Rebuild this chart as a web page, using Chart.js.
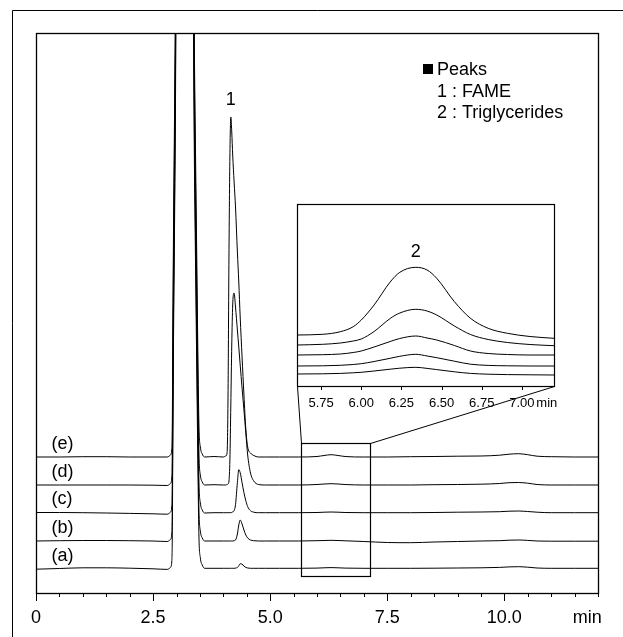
<!DOCTYPE html>
<html>
<head>
<meta charset="utf-8">
<title>Chromatograms</title>
<script src="https://cdn.jsdelivr.net/npm/chart.js@4.4.1/dist/chart.umd.min.js"></script>
<style>
  html, body { margin: 0; padding: 0; background: #fff; }
  #wrap { position: relative; width: 623px; height: 637px; overflow: hidden; }
  #main { position: absolute; left: 0; top: 0; }
  #inset { position: absolute; left: 290px; top: 195px; }
</style>
</head>
<body>
<div id="wrap">
  <canvas id="main" width="623" height="637"></canvas>
  <canvas id="inset" width="280" height="230"></canvas>
</div>
<script>
// ---- data (retention time in min, detector signal in arbitrary units) ----
const traceNames = ['(a)', '(b)', '(c)', '(d)', '(e)'];

const times = [
  0, 0.5, 1.0, 1.5, 2.0, 2.5, 2.8,
  2.87, 2.9, 2.91, 2.92, 2.935, 2.95, 2.965, 2.98, 3.0, 3.05,
  3.3, 3.35, 3.365, 3.38, 3.4, 3.42, 3.44, 3.46, 3.48, 3.51, 3.55, 3.6,
  3.8, 4.0,
  4.05, 4.08, 4.1, 4.12, 4.14, 4.16, 4.18, 4.2, 4.23, 4.26, 4.3, 4.33, 4.36, 4.4, 4.44, 4.48, 4.52, 4.58, 4.65, 4.75,
  4.9, 5.2, 5.6, 6.0, 6.15, 6.3, 6.45, 6.6, 7.0, 7.5, 8.0, 8.5, 9.0, 9.5, 9.9, 10.1, 10.3, 10.5, 10.7, 11.0, 11.5, 12.0
];

const traceA = [
  23.8, 24.5, 25.2, 25.2, 24.8, 24.2, 23.6,
  25.5, 32, 55, 135, 245, 325, 405, 505, 725, 1025,
  1025, 725, 565, 445, 355, 275, 195, 115, 55, 35, 28, 24.7,
  24.7, 24.7,
  24.7, 24.7, 24.7, 24.7, 24.7, 24.7, 24.7, 24.7, 24.7, 24.9, 25.5, 27.2, 29.2, 28.9, 26.9, 25.6, 25, 24.7, 24.7, 24.7,
  24.7, 24.7, 24.7, 24.9, 25.2, 25.4, 25.2, 24.9, 24.7, 24.7, 24.7, 24.8, 25, 25.2, 25.6, 26.1, 26.3, 25.8, 25, 24.7, 24.7, 24.7
];

const traceB = [
  52, 52.3, 52.5, 52.5, 52.3, 52, 51.5,
  53.5, 60, 82, 162, 272, 352, 432, 532, 752, 1052,
  1052, 752, 592, 472, 382, 302, 222, 142, 82, 62, 55, 52,
  52, 52,
  52, 52, 52, 52, 52, 52, 52, 52, 52.3, 53, 59, 68, 73, 69, 63, 58, 55, 53, 52.3, 52,
  52, 52, 52, 52.3, 52.5, 52.7, 52.5, 52.2, 51.5, 50.5, 50.3, 51, 51.5, 52, 52.3, 52.8, 53, 52.6, 52, 51.8, 51.8, 51.8
];

const traceC = [
  80.5, 80.5, 80.3, 80, 79.6, 79.2, 78.8,
  80.8, 87, 109, 189, 299, 379, 459, 559, 779, 1079,
  1080, 780, 620, 500, 410, 330, 250, 170, 110, 90, 83, 80,
  80.3, 80.3,
  80.3, 80.3, 80.3, 80.3, 80.3, 80.3, 80.6, 81.1, 82.3, 88.3, 110.3, 123.3, 120.3, 110.3, 100.3, 92.3, 86.3, 82.3, 80.8, 80.3,
  80.3, 80.3, 80.3, 80.5, 80.8, 81, 80.8, 80.5, 80.3, 80.3, 80.3, 80.5, 80.8, 81, 81.3, 81.8, 82, 81.5, 80.8, 80.3, 80.3, 80.3
];

const traceD = [
  108, 108, 108, 108, 108, 107.8, 107.5,
  109.5, 116, 138, 218, 328, 408, 488, 588, 808, 1108,
  1108, 808, 648, 528, 438, 358, 278, 198, 138, 118, 111, 108,
  108.3, 108,
  108, 108.5, 109, 112, 133, 188, 248, 288, 300, 286, 263, 246, 228, 205, 183, 160, 138, 120, 112, 108.5,
  108, 108, 108, 108.5, 109, 109.3, 109, 108.5, 108, 108, 108, 108.3, 108.5, 108.8, 109.5, 110.3, 110.5, 109.8, 108.5, 108, 108, 108
];

const traceE = [
  136, 136, 136.3, 136.3, 136, 136, 136,
  138, 144, 166, 246, 356, 436, 516, 616, 836, 1136,
  1136, 836, 676, 556, 466, 386, 306, 226, 166, 146, 139, 136,
  136.5, 136,
  137, 140, 196, 336, 436, 476, 461, 438, 411, 386, 341, 311, 276, 236, 198, 164, 146, 140, 137.5, 136,
  136, 136, 136, 136.5, 137.5, 138.3, 137.5, 136.5, 136, 136, 136.3, 136.5, 136.8, 137, 137.8, 138.8, 139.3, 138.3, 136.8, 136.3, 136, 136
];

// inset: enlarged view of peak 2 (triglycerides)
const insetTimes = [5.6, 5.76, 5.87, 5.95, 6.0, 6.08, 6.18, 6.24, 6.34, 6.41, 6.47, 6.58, 6.68, 6.79, 6.91, 7.05, 7.2];
const insetA = [12, 12.2, 12.6, 13.2, 13.7, 15, 16.8, 17.8, 18.7, 17.6, 16.4, 14.2, 12.6, 11.8, 11.4, 11.2, 11];
const insetB = [20, 20.2, 20.7, 21.5, 22.3, 24.5, 27.7, 29.7, 31.7, 30, 28.3, 24.8, 21.8, 20.6, 20.2, 20, 20];
const insetC = [31, 31.3, 32, 33.5, 35, 39, 44.5, 47.5, 50, 48, 46, 40.5, 35, 32.5, 31.5, 31, 31];
const insetD = [41, 41.7, 43, 45, 47, 54.5, 67.5, 73, 76.7, 75, 71, 60, 51.5, 46.5, 43.5, 41.5, 40.3];
const insetE = [51, 51.7, 54.3, 59.3, 66, 81, 104, 113.7, 118.7, 116, 107.7, 84.3, 67.7, 57.7, 52.7, 49.5, 47.7];

const xTickValues = [0, 2.5, 5.0, 7.5, 10.0];
const xTickLabels = ['0', '2.5', '5.0', '7.5', '10.0'];
const insetTickValues = [5.75, 6.0, 6.25, 6.5, 6.75, 7.0];
const insetTickLabels = ['5.75', '6.00', '6.25', '6.50', '6.75', '7.00'];
const legendLines = ['1 : FAME', '2 : Triglycerides'];

// ---- layout ----
const FONT = '"Liberation Sans", Arial, sans-serif';
const INSET_LEFT = 290, INSET_TOP = 195;
const zoomBox = { from: 5.65, to: 7.14, low: 17, high: 150 };

const mainSeries = [traceA, traceB, traceC, traceD, traceE];
const insetSeries = [insetA, insetB, insetC, insetD, insetE];

function toPoints(xs, ys) {
  return xs.map((t, i) => ({ x: t, y: ys[i] }));
}

function lineDataset(xs, ys, label) {
  return {
    label: label,
    data: toPoints(xs, ys),
    borderColor: '#000',
    borderWidth: 1,
    pointRadius: 0,
    fill: false,
    cubicInterpolationMode: 'monotone'
  };
}

const insetDecor = {
  id: 'insetDecor',
  afterDraw(chart) {
    const { ctx, chartArea: a, scales: { x, y } } = chart;
    ctx.save();
    ctx.strokeStyle = '#000';
    ctx.lineWidth = 1.2;
    ctx.strokeRect(a.left + 0.5, a.top + 0.5, a.right - a.left, a.bottom - a.top);

    ctx.lineWidth = 1;
    insetTickValues.forEach(v => {
      const px = Math.round(x.getPixelForValue(v)) + 0.5;
      ctx.beginPath();
      ctx.moveTo(px, a.bottom);
      ctx.lineTo(px, a.bottom + 4);
      ctx.stroke();
    });

    ctx.fillStyle = '#000';
    ctx.font = '13px ' + FONT;
    ctx.textAlign = 'center';
    insetTickValues.forEach((v, i) => {
      ctx.fillText(insetTickLabels[i], x.getPixelForValue(v), a.bottom + 21);
    });
    ctx.fillText('min', x.getPixelForValue(7.155), a.bottom + 21);

    ctx.font = '18px ' + FONT;
    ctx.fillText('2', x.getPixelForValue(6.34), y.getPixelForValue(129.3));
    ctx.restore();
  }
};

const insetChart = new Chart(document.getElementById('inset'), {
  type: 'line',
  data: {
    datasets: insetSeries.map((s, i) => lineDataset(insetTimes, s, traceNames[i]))
  },
  options: {
    responsive: false,
    animation: false,
    layout: { padding: { left: 7, top: 9, right: 16, bottom: 39 } },
    plugins: { legend: { display: false }, tooltip: { enabled: false } },
    scales: {
      x: { type: 'linear', min: 5.6, max: 7.2, display: false },
      y: { min: 0, max: 182, display: false }
    }
  },
  plugins: [insetDecor]
});

const mainDecor = {
  id: 'mainDecor',
  afterDraw(chart) {
    const { ctx, chartArea: a, scales: { x, y } } = chart;
    ctx.save();
    ctx.strokeStyle = '#000';
    ctx.fillStyle = '#000';

    // figure frame, only its left and top edges are inside the picture
    ctx.lineWidth = 1;
    ctx.beginPath();
    ctx.moveTo(12.5, 637);
    ctx.lineTo(12.5, 10.5);
    ctx.lineTo(623, 10.5);
    ctx.stroke();

    // plot frame
    ctx.lineWidth = 1.3;
    ctx.strokeRect(a.left + 0.5, a.top + 0.5, a.right - a.left, a.bottom - a.top);

    // x ticks, major every 2.5 min
    ctx.lineWidth = 1;
    for (let v = 0; v <= 12; v += 0.5) {
      const px = Math.round(x.getPixelForValue(v)) + 0.5;
      const len = v % 2.5 === 0 ? 8 : 4;
      ctx.beginPath();
      ctx.moveTo(px, a.bottom);
      ctx.lineTo(px, a.bottom + len);
      ctx.stroke();
    }

    ctx.font = '18px ' + FONT;
    ctx.textAlign = 'center';
    ctx.textBaseline = 'alphabetic';
    xTickValues.forEach((v, i) => {
      ctx.fillText(xTickLabels[i], x.getPixelForValue(v), a.bottom + 30);
    });
    ctx.fillText('min', x.getPixelForValue(11.77), a.bottom + 30);

    // peak 1 label
    ctx.fillText('1', x.getPixelForValue(4.16), y.getPixelForValue(488));

    // trace labels
    ctx.textAlign = 'left';
    mainSeries.forEach((s, i) => {
      ctx.fillText(traceNames[i], x.getPixelForValue(0.33), y.getPixelForValue(s[0] + 8.5));
    });

    // zoom box and the lines leading to the inset
    const bx0 = Math.round(x.getPixelForValue(zoomBox.from)) + 0.5;
    const bx1 = Math.round(x.getPixelForValue(zoomBox.to)) + 0.5;
    const by0 = Math.round(y.getPixelForValue(zoomBox.high)) + 0.5;
    const by1 = Math.round(y.getPixelForValue(zoomBox.low)) + 0.5;
    ctx.lineWidth = 1.2;
    ctx.strokeRect(bx0, by0, bx1 - bx0, by1 - by0);

    const ia = insetChart.chartArea;
    ctx.lineWidth = 1;
    ctx.beginPath();
    ctx.moveTo(bx0, by0);
    ctx.lineTo(INSET_LEFT + ia.left + 0.5, INSET_TOP + ia.bottom + 0.5);
    ctx.moveTo(bx1, by0);
    ctx.lineTo(INSET_LEFT + ia.right + 0.5, INSET_TOP + ia.bottom + 0.5);
    ctx.stroke();

    // peak legend
    ctx.fillRect(423, 64, 10, 10);
    ctx.fillText('Peaks', 437, 75);
    legendLines.forEach((t, i) => ctx.fillText(t, 437, 96.7 + i * 21.6));
    ctx.restore();
  }
};

new Chart(document.getElementById('main'), {
  type: 'line',
  data: {
    datasets: mainSeries.map((s, i) => lineDataset(times, s, traceNames[i]))
  },
  options: {
    responsive: false,
    animation: false,
    layout: { padding: { left: 36, top: 33, right: 25, bottom: 44 } },
    plugins: { legend: { display: false }, tooltip: { enabled: false } },
    scales: {
      x: { type: 'linear', min: 0, max: 12, display: false },
      y: { min: 0, max: 560, display: false }
    }
  },
  plugins: [mainDecor]
});
</script>
</body>
</html>
